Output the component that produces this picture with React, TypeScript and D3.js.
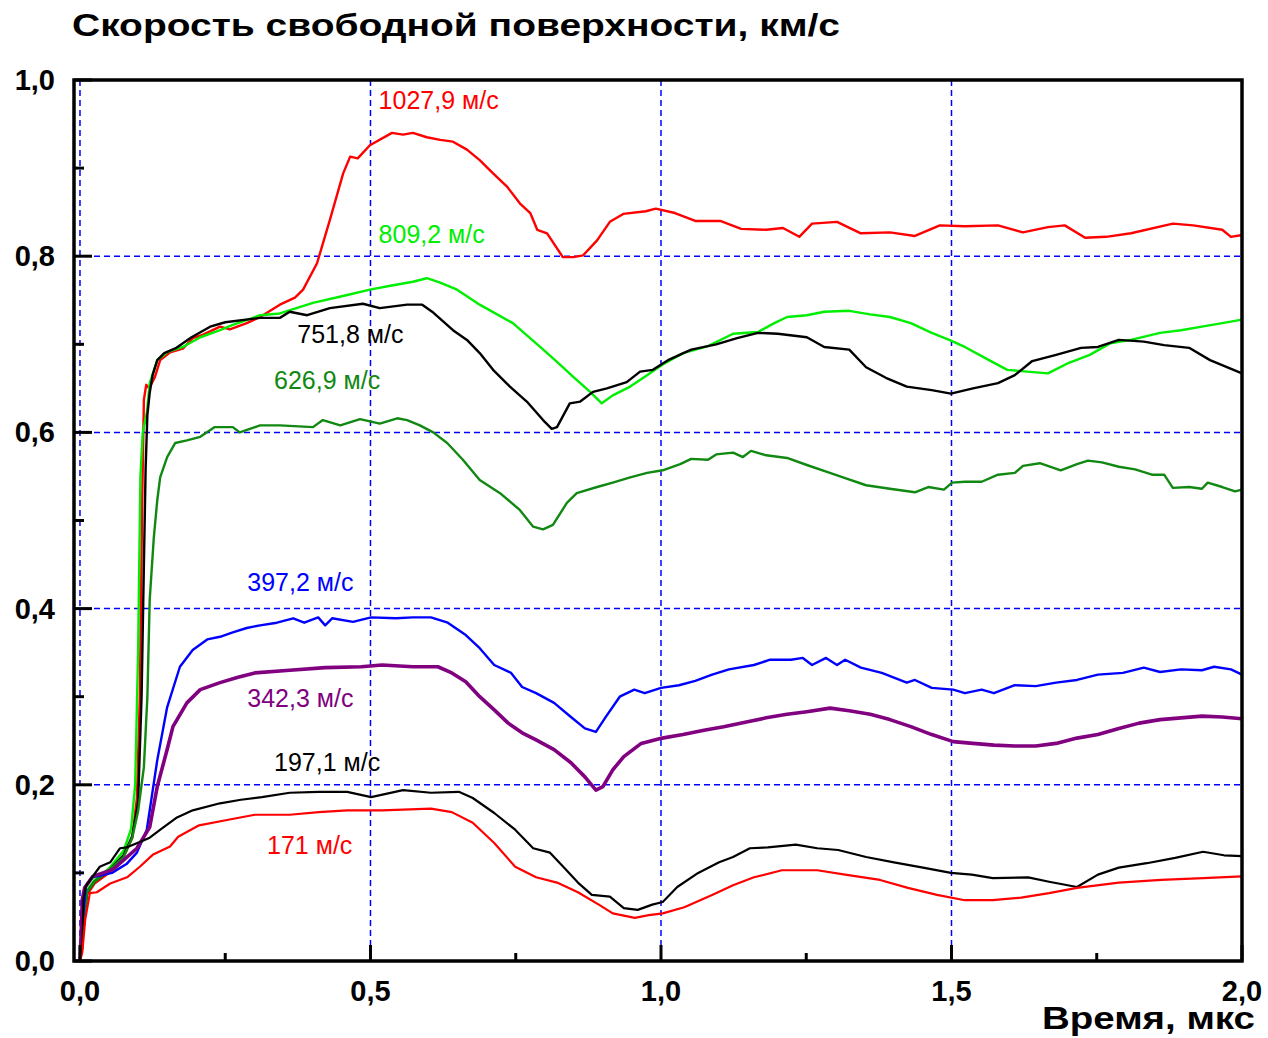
import React from "react";
import * as d3 from "d3";

type P = [number, number];

const red1028: P[] = [[0,0],[0.005,0.03],[0.012,0.075],[0.025,0.088],[0.05,0.1],[0.075,0.118],[0.09,0.14],[0.098,0.185],[0.103,0.3],[0.107,0.52],[0.11,0.637],[0.114,0.654],[0.119,0.65],[0.129,0.663],[0.138,0.682],[0.155,0.691],[0.177,0.695],[0.194,0.707],[0.212,0.711],[0.241,0.72],[0.258,0.717],[0.287,0.724],[0.31,0.731],[0.344,0.745],[0.37,0.753],[0.384,0.762],[0.408,0.792],[0.43,0.841],[0.453,0.894],[0.465,0.913],[0.478,0.911],[0.499,0.926],[0.537,0.94],[0.556,0.938],[0.573,0.94],[0.597,0.935],[0.62,0.932],[0.642,0.93],[0.666,0.921],[0.688,0.909],[0.711,0.894],[0.735,0.879],[0.757,0.86],[0.775,0.849],[0.787,0.83],[0.804,0.826],[0.831,0.799],[0.849,0.799],[0.866,0.801],[0.89,0.818],[0.912,0.839],[0.935,0.848],[0.974,0.851],[0.991,0.854],[1.024,0.849],[1.059,0.84],[1.102,0.84],[1.138,0.831],[1.181,0.83],[1.21,0.832],[1.238,0.822],[1.26,0.837],[1.303,0.839],[1.344,0.826],[1.394,0.827],[1.437,0.823],[1.48,0.835],[1.523,0.834],[1.58,0.835],[1.623,0.827],[1.666,0.833],[1.695,0.835],[1.73,0.821],[1.766,0.822],[1.809,0.826],[1.881,0.837],[1.916,0.835],[1.966,0.83],[1.981,0.822],[2.0,0.824]];

const lime809: P[] = [[0,0],[0.005,0.035],[0.012,0.08],[0.025,0.092],[0.05,0.105],[0.075,0.125],[0.088,0.15],[0.095,0.2],[0.1,0.35],[0.104,0.55],[0.108,0.6],[0.115,0.622],[0.12,0.656],[0.133,0.682],[0.15,0.691],[0.177,0.697],[0.207,0.708],[0.241,0.716],[0.263,0.722],[0.31,0.733],[0.344,0.735],[0.401,0.747],[0.46,0.756],[0.499,0.762],[0.539,0.767],[0.573,0.771],[0.597,0.775],[0.62,0.77],[0.649,0.762],[0.688,0.745],[0.745,0.724],[0.792,0.697],[0.821,0.68],[0.849,0.663],[0.878,0.646],[0.898,0.633],[0.917,0.642],[0.947,0.652],[0.976,0.665],[1.003,0.677],[1.038,0.69],[1.081,0.698],[1.124,0.712],[1.167,0.714],[1.195,0.724],[1.217,0.731],[1.251,0.733],[1.281,0.737],[1.324,0.738],[1.36,0.734],[1.394,0.731],[1.43,0.724],[1.466,0.713],[1.496,0.705],[1.523,0.697],[1.559,0.684],[1.596,0.671],[1.63,0.669],[1.666,0.667],[1.702,0.679],[1.738,0.688],[1.773,0.701],[1.809,0.705],[1.859,0.713],[1.895,0.716],[1.931,0.72],[1.966,0.724],[2.0,0.728]];

const black752: P[] = [[0,0],[0.005,0.03],[0.012,0.078],[0.025,0.09],[0.05,0.103],[0.075,0.12],[0.09,0.142],[0.1,0.18],[0.106,0.3],[0.11,0.45],[0.113,0.56],[0.116,0.62],[0.12,0.645],[0.125,0.665],[0.133,0.682],[0.145,0.69],[0.166,0.696],[0.192,0.708],[0.224,0.72],[0.25,0.725],[0.31,0.73],[0.344,0.73],[0.361,0.737],[0.391,0.733],[0.43,0.741],[0.487,0.746],[0.516,0.741],[0.563,0.745],[0.589,0.745],[0.608,0.736],[0.642,0.716],[0.666,0.705],[0.688,0.69],[0.711,0.671],[0.74,0.652],[0.769,0.635],[0.797,0.614],[0.812,0.604],[0.821,0.606],[0.843,0.633],[0.861,0.635],[0.883,0.646],[0.907,0.65],[0.941,0.657],[0.964,0.669],[0.986,0.671],[1.012,0.682],[1.052,0.694],[1.095,0.7],[1.131,0.707],[1.167,0.713],[1.201,0.712],[1.251,0.708],[1.281,0.697],[1.324,0.694],[1.353,0.674],[1.387,0.662],[1.423,0.652],[1.466,0.648],[1.499,0.644],[1.537,0.65],[1.58,0.656],[1.609,0.665],[1.639,0.681],[1.68,0.688],[1.723,0.696],[1.752,0.697],[1.788,0.705],[1.831,0.703],[1.866,0.699],[1.909,0.696],[1.945,0.682],[1.974,0.674],[2.0,0.667]];

const green627: P[] = [[0,0],[0.005,0.03],[0.012,0.078],[0.025,0.09],[0.05,0.103],[0.075,0.118],[0.09,0.14],[0.1,0.17],[0.11,0.22],[0.116,0.3],[0.12,0.41],[0.127,0.48],[0.133,0.523],[0.138,0.549],[0.15,0.572],[0.164,0.588],[0.184,0.591],[0.207,0.595],[0.232,0.606],[0.263,0.606],[0.275,0.6],[0.31,0.608],[0.344,0.608],[0.401,0.606],[0.418,0.614],[0.448,0.608],[0.482,0.615],[0.516,0.61],[0.546,0.616],[0.563,0.614],[0.585,0.608],[0.608,0.6],[0.632,0.588],[0.659,0.569],[0.688,0.546],[0.723,0.531],[0.757,0.512],[0.78,0.493],[0.797,0.49],[0.814,0.495],[0.838,0.52],[0.855,0.531],[0.89,0.538],[0.917,0.543],[0.947,0.549],[0.976,0.554],[1.003,0.557],[1.033,0.564],[1.052,0.57],[1.081,0.569],[1.095,0.575],[1.124,0.577],[1.141,0.572],[1.155,0.579],[1.181,0.574],[1.217,0.571],[1.251,0.563],[1.287,0.555],[1.317,0.548],[1.353,0.54],[1.394,0.536],[1.437,0.532],[1.46,0.538],[1.487,0.535],[1.501,0.543],[1.523,0.544],[1.552,0.544],[1.58,0.552],[1.609,0.554],[1.623,0.562],[1.652,0.565],[1.688,0.557],[1.716,0.564],[1.735,0.568],[1.759,0.566],[1.788,0.561],[1.816,0.558],[1.845,0.552],[1.866,0.552],[1.881,0.537],[1.909,0.538],[1.931,0.536],[1.941,0.543],[1.966,0.538],[1.988,0.533],[2.0,0.535]];

const blue397: P[] = [[0,0],[0.004,0.04],[0.01,0.085],[0.02,0.095],[0.035,0.097],[0.055,0.1],[0.08,0.11],[0.098,0.123],[0.115,0.149],[0.133,0.228],[0.15,0.288],[0.172,0.334],[0.194,0.353],[0.219,0.365],[0.241,0.368],[0.263,0.373],[0.287,0.378],[0.31,0.381],[0.339,0.384],[0.367,0.389],[0.386,0.384],[0.41,0.39],[0.422,0.381],[0.434,0.389],[0.47,0.385],[0.501,0.39],[0.544,0.389],[0.573,0.39],[0.604,0.39],[0.633,0.384],[0.664,0.37],[0.688,0.355],[0.713,0.336],[0.742,0.327],[0.761,0.311],[0.785,0.304],[0.816,0.293],[0.845,0.277],[0.869,0.264],[0.888,0.26],[0.905,0.277],[0.929,0.3],[0.954,0.308],[0.972,0.304],[1.0,0.31],[1.031,0.313],[1.059,0.318],[1.088,0.325],[1.117,0.331],[1.16,0.336],[1.188,0.342],[1.224,0.342],[1.244,0.344],[1.26,0.336],[1.284,0.344],[1.303,0.336],[1.317,0.342],[1.344,0.333],[1.38,0.327],[1.423,0.316],[1.437,0.319],[1.466,0.31],[1.503,0.308],[1.523,0.304],[1.552,0.308],[1.573,0.304],[1.609,0.313],[1.645,0.312],[1.68,0.316],[1.716,0.319],[1.752,0.325],[1.795,0.327],[1.831,0.333],[1.859,0.328],[1.895,0.331],[1.931,0.33],[1.952,0.334],[1.981,0.331],[2.0,0.325]];

const purple342: P[] = [[0,0],[0.002,0.03],[0.004,0.07],[0.008,0.083],[0.022,0.096],[0.057,0.104],[0.098,0.128],[0.12,0.152],[0.133,0.198],[0.15,0.24],[0.16,0.266],[0.184,0.293],[0.207,0.308],[0.241,0.316],[0.272,0.322],[0.301,0.327],[0.361,0.33],[0.422,0.333],[0.484,0.334],[0.52,0.336],[0.573,0.334],[0.616,0.334],[0.64,0.327],[0.664,0.317],[0.688,0.3],[0.713,0.285],[0.737,0.27],[0.761,0.259],[0.785,0.251],[0.816,0.24],[0.845,0.225],[0.869,0.209],[0.888,0.194],[0.9,0.198],[0.917,0.217],[0.936,0.232],[0.966,0.247],[1.002,0.253],[1.038,0.257],[1.074,0.262],[1.108,0.266],[1.145,0.271],[1.181,0.276],[1.217,0.28],[1.251,0.283],[1.291,0.287],[1.324,0.284],[1.36,0.28],[1.394,0.274],[1.43,0.266],[1.466,0.257],[1.503,0.249],[1.537,0.247],[1.573,0.245],[1.609,0.244],[1.645,0.244],[1.68,0.247],[1.716,0.253],[1.752,0.257],[1.788,0.264],[1.823,0.27],[1.859,0.274],[1.895,0.276],[1.931,0.278],[1.966,0.277],[2.0,0.275]];

const black197: P[] = [[0,0],[0.004,0.015],[0.006,0.07],[0.01,0.085],[0.034,0.107],[0.052,0.112],[0.069,0.128],[0.081,0.129],[0.103,0.135],[0.12,0.14],[0.14,0.15],[0.167,0.163],[0.194,0.171],[0.241,0.179],[0.277,0.183],[0.313,0.186],[0.361,0.191],[0.411,0.192],[0.46,0.192],[0.501,0.186],[0.556,0.194],[0.604,0.191],[0.652,0.192],[0.676,0.185],[0.713,0.168],[0.749,0.149],[0.78,0.128],[0.809,0.123],[0.833,0.106],[0.857,0.089],[0.881,0.075],[0.912,0.073],[0.936,0.06],[0.96,0.058],[0.985,0.064],[1.003,0.067],[1.028,0.084],[1.064,0.1],[1.1,0.112],[1.124,0.118],[1.153,0.128],[1.184,0.129],[1.232,0.132],[1.269,0.128],[1.305,0.126],[1.353,0.118],[1.401,0.112],[1.451,0.106],[1.499,0.1],[1.535,0.098],[1.571,0.094],[1.632,0.095],[1.668,0.09],[1.716,0.084],[1.752,0.098],[1.788,0.106],[1.836,0.111],[1.885,0.117],[1.933,0.124],[1.969,0.12],[2.0,0.119]];

const red171: P[] = [[0,0],[0.004,0.01],[0.009,0.047],[0.017,0.077],[0.029,0.078],[0.052,0.088],[0.081,0.095],[0.103,0.107],[0.126,0.121],[0.155,0.13],[0.169,0.141],[0.205,0.154],[0.253,0.16],[0.301,0.166],[0.361,0.166],[0.411,0.169],[0.46,0.171],[0.52,0.171],[0.604,0.173],[0.64,0.169],[0.676,0.157],[0.713,0.134],[0.749,0.107],[0.785,0.095],[0.821,0.089],[0.857,0.078],[0.893,0.064],[0.917,0.054],[0.955,0.049],[0.979,0.052],[1.003,0.054],[1.04,0.061],[1.088,0.075],[1.124,0.086],[1.16,0.095],[1.208,0.103],[1.269,0.103],[1.317,0.098],[1.377,0.092],[1.425,0.083],[1.475,0.075],[1.523,0.069],[1.571,0.069],[1.62,0.072],[1.668,0.077],[1.716,0.083],[1.788,0.089],[1.861,0.092],[1.933,0.094],[2.0,0.096]];

const seriesNames = ["1027,9 м/с", "809,2 м/с", "751,8 м/с", "626,9 м/с", "397,2 м/с", "342,3 м/с", "197,1 м/с", "171 м/с"];
const seriesData = [red1028, lime809, black752, green627, blue397, purple342, black197, red171];
const seriesColors = ["#ff0000", "#00ee00", "#000000", "#118811", "#0000ff", "#800080", "#000000", "#ff0000"];
const seriesWidths = [2.4, 2.4, 2.4, 2.4, 2.4, 3.6, 2.2, 2.2];
// label anchor positions in data units (t, v)
const labelPos: P[] = [[0.514, 0.967], [0.514, 0.815], [0.374, 0.701], [0.334, 0.649], [0.288, 0.42], [0.288, 0.288], [0.334, 0.216], [0.322, 0.122]];

const xTickVals = [0, 0.5, 1.0, 1.5, 2.0];
const xTickLabels = ["0,0", "0,5", "1,0", "1,5", "2,0"];
const xMinorVals = [0.25, 0.75, 1.25, 1.75];
const yTickVals = [0, 0.2, 0.4, 0.6, 0.8, 1.0];
const yTickLabels = ["0,0", "0,2", "0,4", "0,6", "0,8", "1,0"];
const yMinorVals = [0.1, 0.3, 0.5, 0.7, 0.9];
const xGridVals = [0, 0.5, 1.0, 1.5];
const yGridVals = [0.2, 0.4, 0.6, 0.8];

const title = "Скорость свободной поверхности, км/с";
const xTitle = "Время, мкс";

export default function App() {
  const W = 1268, H = 1038;
  const x = d3.scaleLinear().domain([-0.0103, 2.0]).range([74, 1242]);
  const y = d3.scaleLinear().domain([0, 1]).range([961, 80]);
  const line = d3.line<P>().x(d => x(d[0])).y(d => y(d[1]));
  const font = "Arial, 'Liberation Sans', sans-serif";
  const left = x(-0.0103), right = x(2.0), top = y(1), bottom = y(0);

  return (
    <svg width={W} height={H} style={{ position: "absolute", left: 0, top: 0, background: "#fff" }} fontFamily={font}>
      <rect x={0} y={0} width={W} height={H} fill="#fff" />
      {xGridVals.map((v, i) => (
        <line key={"gx" + i} x1={x(v)} x2={x(v)} y1={top} y2={bottom} stroke="#0000ff" strokeWidth={1.5} strokeDasharray="6,4" />
      ))}
      {yGridVals.map((v, i) => (
        <line key={"gy" + i} x1={left} x2={right} y1={y(v)} y2={y(v)} stroke="#0000ff" strokeWidth={1.5} strokeDasharray="6,4" />
      ))}
      {seriesData.map((d, i) => (
        <path key={"s" + i} d={line(d) || ""} fill="none" stroke={seriesColors[i]} strokeWidth={seriesWidths[i]} strokeLinejoin="round" />
      ))}
      {seriesNames.map((n, i) => (
        <text key={"l" + i} x={x(labelPos[i][0])} y={y(labelPos[i][1])} fontSize={25} fill={seriesColors[i]} textAnchor="start">{n}</text>
      ))}
      <rect x={left} y={top} width={right - left} height={bottom - top} fill="none" stroke="#000" strokeWidth={3.5} />
      {xTickVals.map((v, i) => (
        <line key={"xt" + i} x1={x(v)} x2={x(v)} y1={bottom} y2={bottom - 16} stroke="#000" strokeWidth={3} />
      ))}
      {xMinorVals.map((v, i) => (
        <line key={"xm" + i} x1={x(v)} x2={x(v)} y1={bottom} y2={bottom - 8} stroke="#000" strokeWidth={3} />
      ))}
      {yTickVals.map((v, i) => (
        <line key={"yt" + i} x1={left} x2={left + 18} y1={y(v)} y2={y(v)} stroke="#000" strokeWidth={3} />
      ))}
      {yMinorVals.map((v, i) => (
        <line key={"ym" + i} x1={left} x2={left + 10} y1={y(v)} y2={y(v)} stroke="#000" strokeWidth={3} />
      ))}
      {xTickVals.map((v, i) => (
        <text key={"xl" + i} x={x(v)} y={1001} fontSize={29} fontWeight="bold" textAnchor="middle">{xTickLabels[i]}</text>
      ))}
      {yTickVals.map((v, i) => (
        <text key={"yl" + i} x={55} y={y(v) + 10} fontSize={29} fontWeight="bold" textAnchor="end">{yTickLabels[i]}</text>
      ))}
      <text x={72} y={36} fontSize={31} fontWeight="bold" textLength={768} lengthAdjust="spacingAndGlyphs">{title}</text>
      <text x={1042} y={1029} fontSize={32} fontWeight="bold" textLength={213} lengthAdjust="spacingAndGlyphs">{xTitle}</text>
    </svg>
  );
}
